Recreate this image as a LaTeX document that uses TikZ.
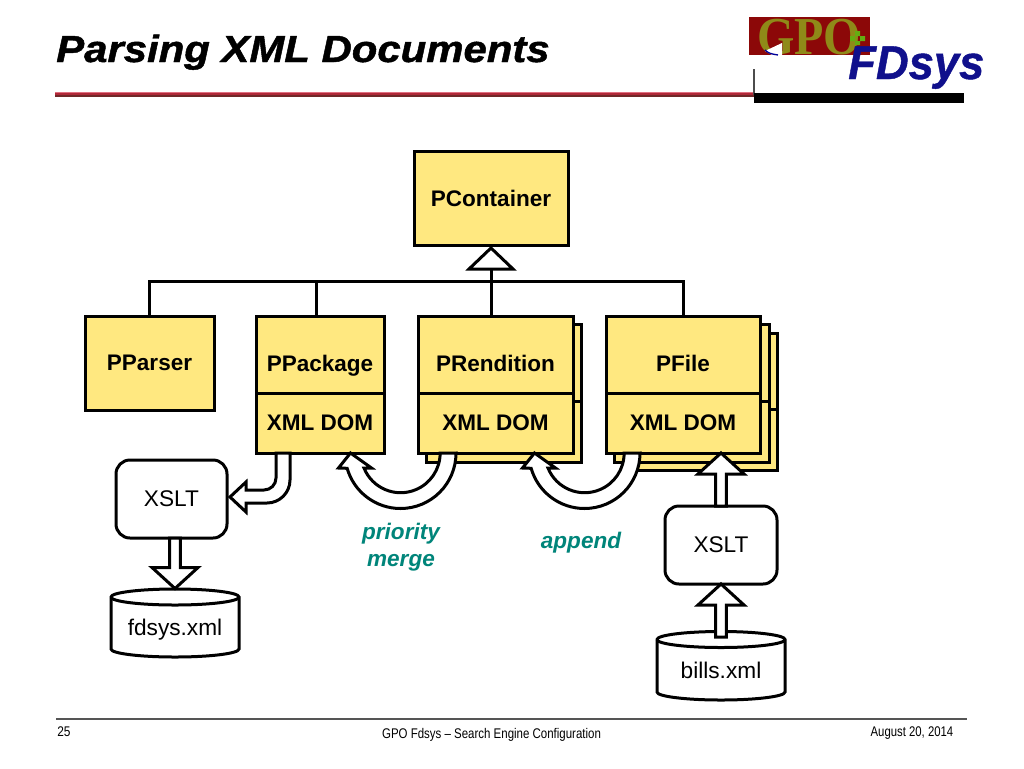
\documentclass[tikz,border=0pt]{standalone}
\usepackage{fontspec}
\usetikzlibrary{calc}
\setmainfont{Liberation Sans}
\newfontfamily\heavytitle{Liberation Sans}[BoldItalicFeatures={FakeBold=1.2}]
\newfontfamily\heavylogo{Liberation Sans}[BoldItalicFeatures={FakeBold=0.9}]
\newfontfamily\gpofont{Liberation Serif}
\definecolor{boxfill}{HTML}{FFE880}
\definecolor{teallabel}{HTML}{00857A}
\definecolor{navy}{HTML}{10108C}
\definecolor{gpored}{HTML}{8C0808}
\definecolor{gpoolive}{HTML}{8F8A18}
\definecolor{footrule}{HTML}{555555}
\definecolor{rulepink}{HTML}{E07080}
\definecolor{rulered}{HTML}{B02838}
\definecolor{ruledark}{HTML}{702828}
\newcommand{\fs}[1]{\fontsize{#1}{#1}\selectfont}
\newcommand{\dn}[1]{\raisebox{-12.4pt}[0pt][0pt]{#1}}
\tikzset{
  x=0.75pt,y=-0.75pt,
  ln/.style={line width=2.25pt,draw=black,line join=miter},
  ybox/.style={ln,fill=boxfill,inner sep=0pt,outer sep=0pt,font=\fs{16.9pt}\bfseries,align=center},
  rbox/.style={ln,fill=white,rounded corners=10.5pt,inner sep=0pt,outer sep=0pt,font=\fs{17pt}},
  dbbody/.style={ln,fill=white},
  dbtext/.style={inner sep=0pt,anchor=base,font=\fs{17pt}},
  tlabel/.style={inner sep=0pt,text=teallabel,align=center,font=\fontsize{16.9pt}{20.25pt}\selectfont\bfseries\itshape},
  foot/.style={inner sep=0pt,anchor=base,font=\fs{10.5pt}},
  bigarrow/.style={ln,fill=white},
}
\newcommand{\stackbox}[5]{% name, x1,y1,x2,y2
  \node[ybox,minimum width={(#4-#2)*0.75pt},minimum height={(#5-#3)*0.75pt}] (#1) at ({(#2+#4)/2},{(#3+#5)/2}) {};}
% straight block arrow: from, to, sign (+1 down, -1 up)
\newcommand{\blockarrow}[3]{%
  \draw[bigarrow] let \p1=(#1),\p2=(#2) in
    (\x1-4.1pt,\y1) -- (\x1-4.1pt,\y2+#3*15.75pt) -- (\x1-17.25pt,\y2+#3*15.75pt) -- (\x1,\y2)
    -- (\x1+17.25pt,\y2+#3*15.75pt) -- (\x1+4.1pt,\y2+#3*15.75pt) -- (\x1+4.1pt,\y1) -- cycle;}
% half-ring block arrow around a centre on the lower edge of a box
\newcommand{\ringarrow}[1]{%
  \begin{scope}[shift={(#1)}]
    \draw[bigarrow] (55.5,0) arc[start angle=0,end angle=164,radius=55.5] -- (-62,15) -- (-50,0) -- (-29,15) -- (-36.5,15)
      arc[start angle=158,end angle=0,radius=39.5] -- cycle;
  \end{scope}}
\begin{document}
\begin{tikzpicture}
\useasboundingbox (0,0) rectangle (1024,768);
\fill[white] (0,0) rectangle (1024,768);
% title
\node[inner sep=0pt,anchor=base west,font=\heavytitle\fs{28.3pt}\bfseries\itshape] (title) at (56,62) {\scalebox{1.11}[1]{Parsing XML Documents}};
\fill[rulepink] (55,92) rectangle (754,93);
\fill[rulered] (55,93) rectangle (754,95);
\fill[ruledark] (55,95) rectangle (754,97);
% logo
\fill[gpored] (749,17) rectangle (870,55);
\begin{scope}
  \clip (749,17) rectangle (870,55);
  \node[inner sep=0pt,text=gpoolive,anchor=base,font=\gpofont\bfseries\fs{40pt}] (gpo) at (809,54.5) {\scalebox{0.9}[1]{GPO}};
  \fill[gpoolive!70!green] (850,36) rectangle (855,41) (855,31) rectangle (860,36) (860,36) rectangle (865,41) (855,41) rectangle (860,45);
\end{scope}
\fill[white] (765,51) -- (782,43) -- (782,55) -- (772,55) -- cycle;
\draw[color=blue!60!black,line width=1pt] (765,50) .. controls (768,53) and (771,54) .. (778,55);
\draw[color=black!70,line width=0.8pt] (754,69) -- (754,95);
\fill[black] (754,93) rectangle (964,103);
\node[inner sep=0pt,anchor=base west,text=navy,font=\heavylogo\fs{35.6pt}\bfseries\itshape] (fdsys) at (848,79) {\scalebox{0.955}[1]{FDsys}};
% hierarchy
\node[ybox,minimum width=115.5pt,minimum height=70.5pt] (pcont) at (491,198) {PContainer};
\node[ybox,minimum width=96.75pt,minimum height=70.5pt] (pparser) at (149.5,363) {PParser};
\stackbox{pf3a}{622}{333}{777}{409}
\stackbox{pf3b}{622}{409}{777}{470}
\stackbox{pf2a}{614}{324}{769}{401}
\stackbox{pf2b}{614}{401}{769}{462}
\stackbox{pr2a}{426}{324}{581}{401}
\stackbox{pr2b}{426}{401}{581}{462}
\node[ybox,minimum width=96pt,minimum height=57.75pt] (ppkg) at (320,354.5) {\dn{PPackage}};
\node[ybox,minimum width=96pt,minimum height=45pt] (dom1) at (320,423) {XML DOM};
\node[ybox,minimum width=116.25pt,minimum height=57.75pt] (prend) at (495.5,354.5) {\dn{PRendition}};
\node[ybox,minimum width=116.25pt,minimum height=45pt] (dom2) at (495.5,423) {XML DOM};
\node[ybox,minimum width=115.5pt,minimum height=57.75pt] (pfile) at (683,354.5) {\dn{PFile}};
\node[ybox,minimum width=115.5pt,minimum height=45pt] (dom3) at (683,423) {XML DOM};
% inheritance
\coordinate (bus) at (491,281.5);
\coordinate (pkgdrop) at (316,316);
\draw[ln] ($(pcont.south)+(0,3)$) -- ($(pcont.south)+(22,24)$) -- ($(pcont.south)+(-22,24)$) -- cycle;
\draw[ln] ($(pcont.south)+(0,24)$) -- (pcont.south |- prend.north);
\draw[ln] (pparser.north) -- (pparser.north |- bus) -- (pfile.north |- bus) -- (pfile.north);
\draw[ln] (pkgdrop) -- (pkgdrop |- bus);
% xslt and stores
\node[rbox,minimum width=83.25pt,minimum height=58.5pt] (xslt1) at (171.5,499) {XSLT};
\node[rbox,minimum width=84pt,minimum height=58.5pt] (xslt2) at (721,545) {XSLT};
\coordinate (top1) at (175,588.5);
\coordinate (top2) at (721,637);
\draw[dbbody] (111,597) -- (111,649) arc[start angle=180,end angle=0,x radius=64,y radius=8] -- (239,597) arc[start angle=0,end angle=-180,x radius=64,y radius=8] -- cycle;
\draw[ln] (111,597) arc[start angle=180,end angle=0,x radius=64,y radius=8];
\node[dbtext] (db1) at (175,635) {fdsys.xml};
\draw[dbbody] (657,639.5) -- (657,692) arc[start angle=180,end angle=0,x radius=64,y radius=8] -- (785,639.5) arc[start angle=0,end angle=-180,x radius=64,y radius=8] -- cycle;
\draw[ln] (657,639.5) arc[start angle=180,end angle=0,x radius=64,y radius=8];
\node[dbtext] (db2) at (721,678) {bills.xml};
% block arrows
\blockarrow{top1 |- xslt1.south}{top1}{1}
\blockarrow{top2}{xslt2.south}{-1}
\blockarrow{xslt2.north}{xslt2.north |- dom3.south}{-1}
\draw[bigarrow] (276,453) -- (276,478) arc[start angle=0,end angle=90,radius=12] -- (246,490) -- (246,482) -- (230,497) -- (246,512) -- (246,503) -- (267,503) arc[start angle=90,end angle=0,radius=23] -- (290,453) -- cycle;
\coordinate (ring1) at (400.5,453);
\coordinate (ring2) at (584.5,453);
\ringarrow{ring1}
\ringarrow{ring2}
% labels
\node[tlabel] (merge) at (401,547.5) {priority\\merge};
\node[tlabel] (append) at (581,543) {append};
% footer
\fill[footrule] (56,717.5) rectangle (967,719.5);
\node[foot,anchor=base west] (pagenum) at (57,736) {\scalebox{0.85}[1]{25}};
\node[foot] (foottext) at (491.5,738) {\scalebox{0.82}[1]{GPO Fdsys – Search Engine Configuration}};
\node[foot,anchor=base east] (footdate) at (953.5,736) {\scalebox{0.81}[1]{August 20, 2014}};
\end{tikzpicture}
\end{document}
